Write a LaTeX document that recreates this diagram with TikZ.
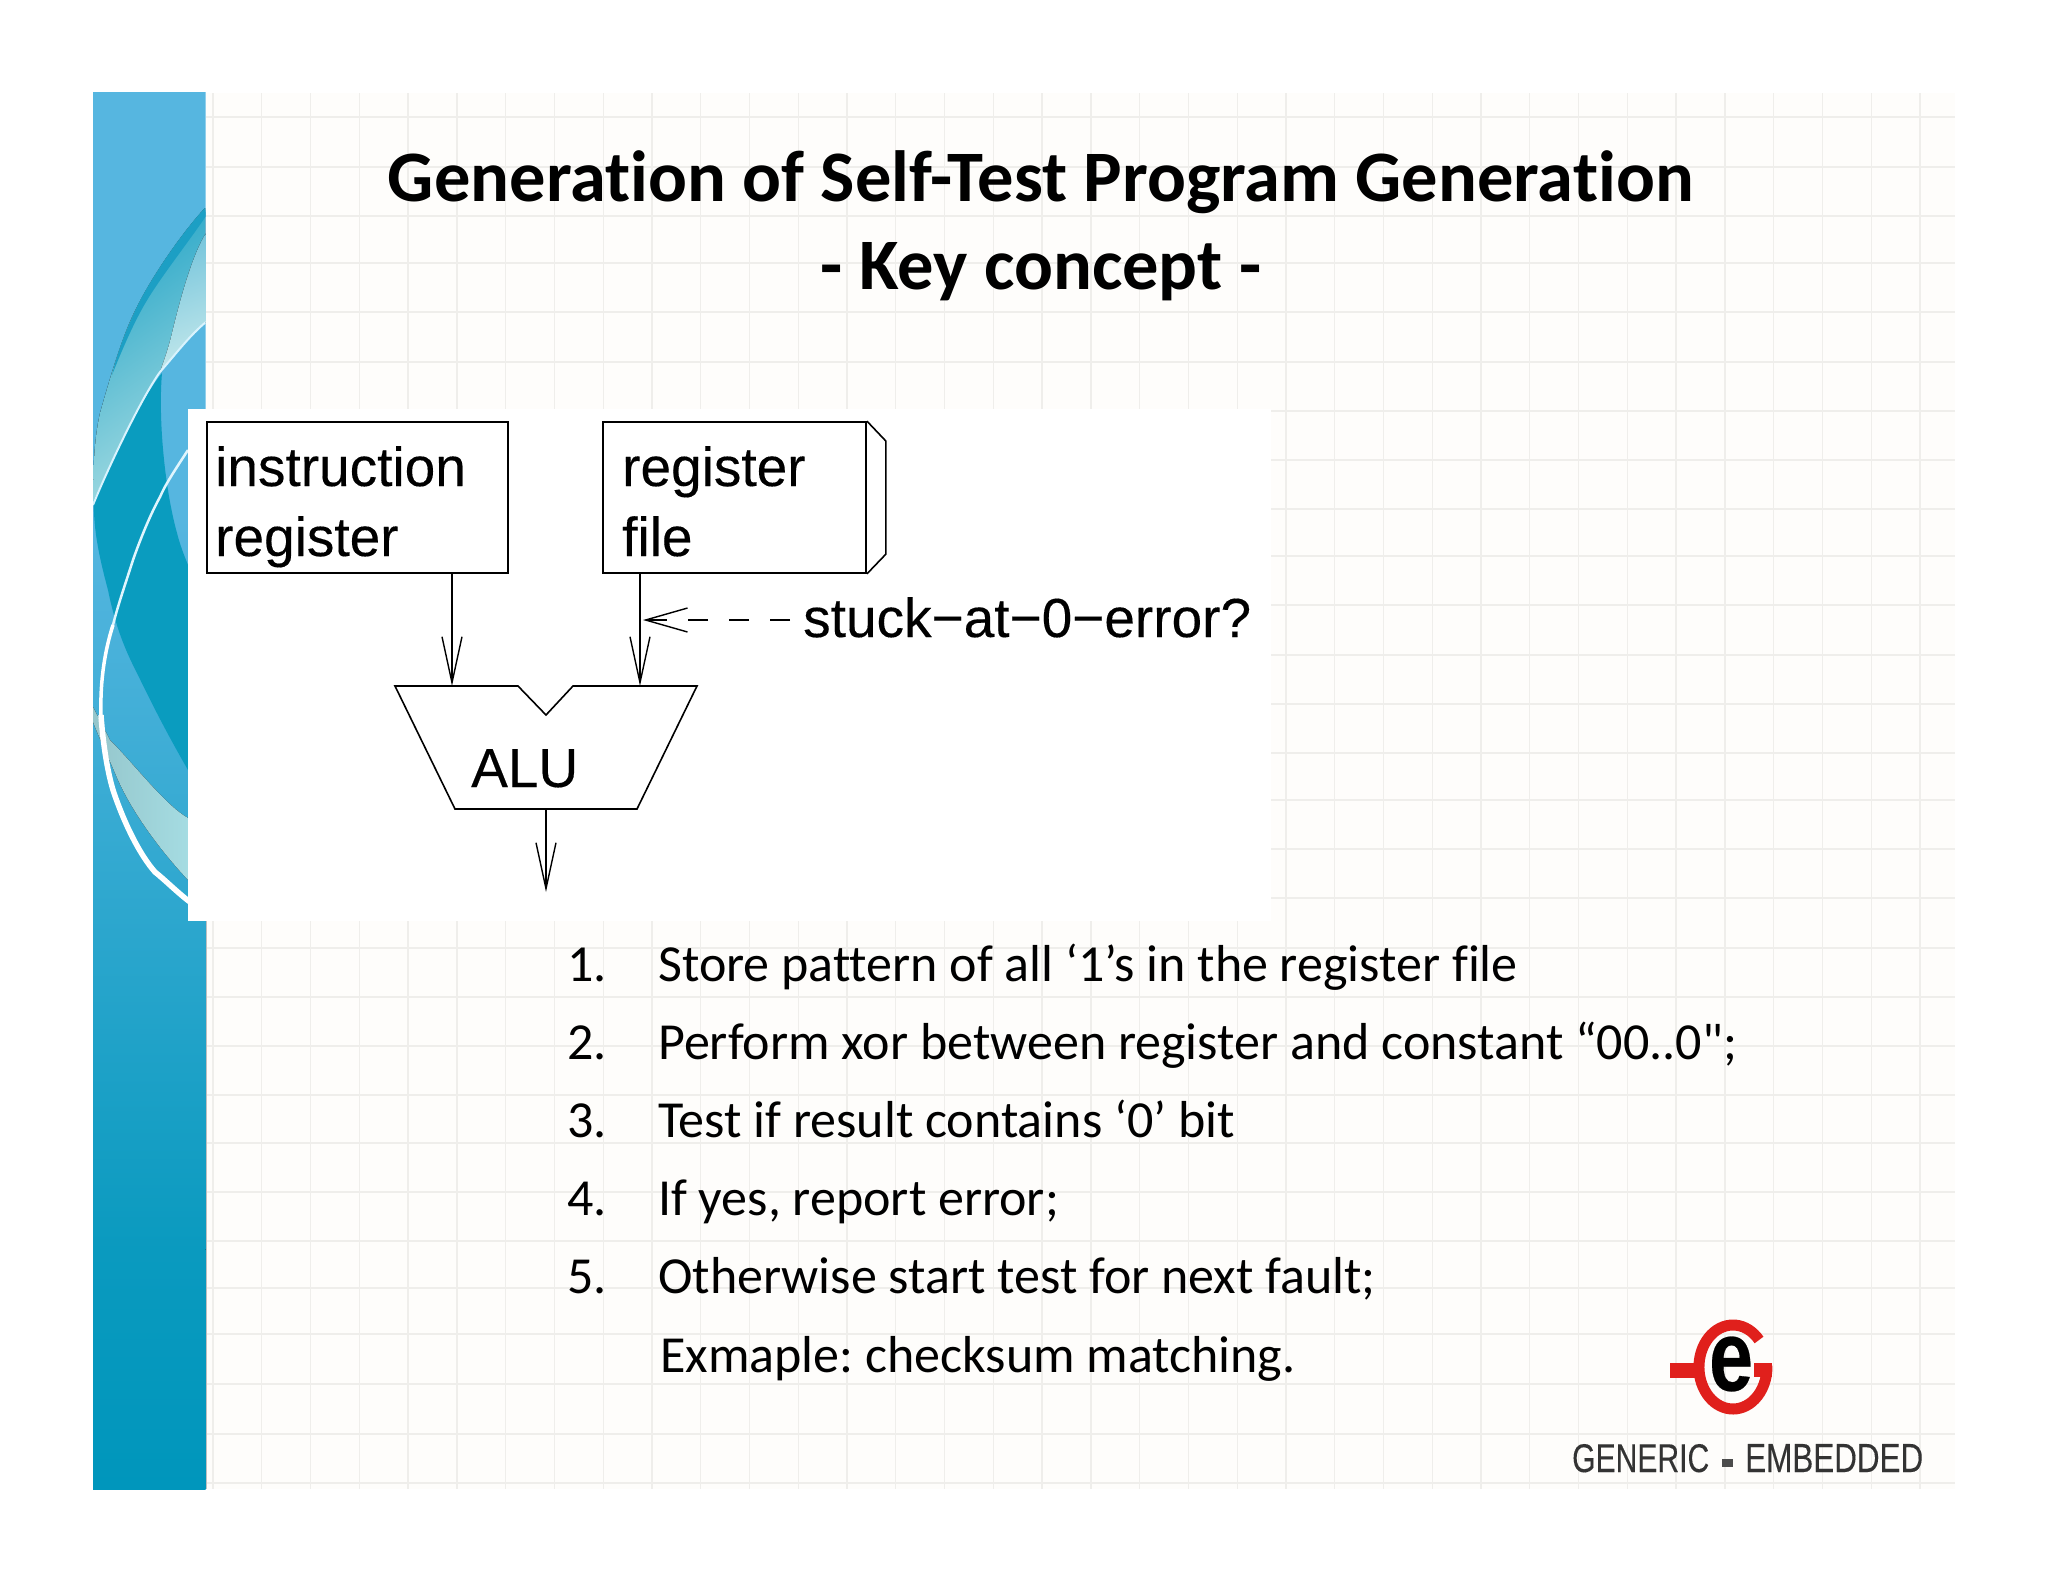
\documentclass[tikz,border=0pt]{standalone}
\usepackage{fontspec}
\setmainfont[Ligatures={TeXOff,NoCommon}]{Carlito}
\newfontfamily\alufont[FakeBold=0.25]{Liberation Sans}
\usetikzlibrary{arrows.meta}
\definecolor{paper}{HTML}{FEFDFB}
\definecolor{gridc}{HTML}{EFEEEB}
\definecolor{panelA}{HTML}{56B6E0}
\definecolor{panelB}{HTML}{0A9ABF}
\definecolor{panelC}{HTML}{0096BC}
\definecolor{deep}{HTML}{0A9CBF}
\definecolor{strip}{HTML}{1C9FC4}
\definecolor{leafA}{HTML}{2AA7C8}
\definecolor{leafB}{HTML}{A5DCE2}
\definecolor{logored}{HTML}{E0201C}
\frenchspacing
\tikzset{
  gridline/.style={gridc,line width=1.3pt},
  titletext/.style={inner sep=0pt,anchor=base,font=\bfseries\fontsize{72.5}{76}\selectfont},
  bodytext/.style={inner sep=0pt,anchor=base west,font=\fontsize{52}{56}\selectfont},
  figtext/.style={inner sep=0pt,anchor=base west,font=\alufont\fontsize{55}{60}\selectfont},
  figbox/.style={draw=black,line width=1.8pt,inner sep=0pt,fill=white},
  figline/.style={draw=black,line width=1.6pt},
  flow/.style={figline,-{Straight Barb[length=46pt,width=20pt,line width=1.4pt]}},
  dashflow/.style={figline,dash pattern=on 20pt off 21pt,-{Straight Barb[length=42pt,width=24pt,line width=1.4pt]}},
  brand/.style={inner sep=0pt,anchor=base west,text=black!80,font=\alufont},
}
\begin{document}
\begin{tikzpicture}[x=1pt,y=-1pt]
\useasboundingbox (0,0) rectangle (2048,1582);
% paper
\fill[paper] (206,93) rectangle (1955,1489);
\foreach \k in {0,...,35} \draw[gridline] ({213+48.77*\k},93) -- ({213+48.77*\k},1489);
\foreach \y in {117,167,216,263,312,362,411,460,509,556,605,655,704,753,800,849,898,948,997,1046,1095,1143,1192,1241,1288,1334,1384,1434,1483}
  \draw[gridline] (206,\y) -- (1955,\y);
% blue panel
\begin{scope}
\clip (93,92) rectangle (205.5,1489);
\fill[panelA] (93,92) rectangle (206,520);
\fill[top color=panelA,bottom color=panelB] (93,519) rectangle (206,1250);
\fill[top color=panelB,bottom color=panelC] (93,1249) rectangle (206,1489);
% upper leaf
\fill[top color=leafA,bottom color=leafB,shading angle=35]
  (205,208) .. controls (180,235) and (150,280) .. (137,307)
  .. controls (122,335) and (108,385) .. (100,413)
  .. controls (94,440) and (93,470) .. (93,505)
  .. controls (105,475) and (140,400) .. (160,372)
  .. controls (175,355) and (190,335) .. (206,322) -- cycle;
\fill[strip]
  (205,208) .. controls (180,235) and (150,280) .. (137,307)
  .. controls (127,328) and (118,350) .. (112,375)
  .. controls (122,350) and (134,322) .. (146,302)
  .. controls (160,278) and (190,240) .. (206,216) -- cycle;
\fill[top color=strip!60!white,bottom color=leafB!70!white,shading angle=20]
  (206,233) .. controls (192,255) and (180,300) .. (172,333)
  .. controls (168,350) and (164,360) .. (160,372)
  .. controls (175,355) and (190,335) .. (206,322) -- cycle;
% deep body
\fill[deep]
  (162,373) .. controls (158,420) and (165,490) .. (177,533)
  .. controls (180,545) and (184,555) .. (188,565)
  -- (206,570) -- (206,790) -- (188,770)
  .. controls (165,730) and (150,700) .. (137,673)
  .. controls (125,650) and (115,625) .. (108,590)
  .. controls (100,560) and (93,530) .. (94,500)
  .. controls (110,465) and (140,400) .. (162,373) -- cycle;
\draw[cyan!15!white,line width=2pt]
  (93,505) .. controls (105,475) and (140,400) .. (160,372)
  .. controls (175,355) and (190,335) .. (206,322);
% light band
\fill[left color=leafB!90!black,right color=leafB]
  (93,707) -- (110,740) .. controls (135,765) and (165,805) .. (188,818)
  -- (188,880) .. controls (160,850) and (130,810) .. (115,773)
  .. controls (105,750) and (98,735) .. (93,722) -- cycle;
% white curve
\draw[cyan!12!white,line width=2.5pt]
  (188,450) .. controls (175,470) and (165,485) .. (160,497)
  .. controls (150,515) and (140,540) .. (133,560)
  .. controls (125,585) and (118,605) .. (113,625);
\draw[white,line width=3.5pt]
  (113,625) .. controls (105,650) and (100,680) .. (101,715);
\draw[white,line width=5.5pt]
  (101,715) .. controls (103,745) and (108,775) .. (114,793)
  .. controls (125,825) and (140,855) .. (155,872)
  .. controls (165,880) and (178,893) .. (190,902);
\end{scope}
\draw[black!25,line width=1pt] (206,921) -- (206,1489);
% white figure ground
\fill[white] (188,409) rectangle (1271,921);
% title
\node[titletext] (title1) at (1041,201) {Generation of Self-Test Program Generation};
\node[titletext] (title2) at (1041,289) {- Key concept -};
% figure
\node[figbox,minimum width=301pt,minimum height=151pt] (ireg) at (357.5,497.5) {};
\node[figbox,minimum width=263pt,minimum height=151pt] (rfile) at (734.5,497.5) {};
\draw[figline] (rfile.north east) -- ++(19,20) -- ++(0,113) -- (rfile.south east);
\node[figtext] (it1) at (215,486) {instruction};
\node[figtext] (it2) at (215,556) {register};
\node[figtext] (rt1) at (622,486) {register};
\node[figtext] (rt2) at (622,556) {file};
\coordinate (aluA) at (452,686);
\coordinate (aluB) at (640,686);
\coordinate (aluOut) at (546,809);
\coordinate (outEnd) at (546,892);
\coordinate (probe) at (643,620);
\draw[figline,line join=miter] (395,686) -- (518,686) -- (546,715) -- (573,686) -- (697,686) -- (637,809) -- (455,809) -- cycle;
\node[figtext] (alu) at (471,787) {ALU};
\node[figtext] (stuck) at (803,637) {stuck−at−0−error?};
\draw[flow] (ireg.south -| aluA) -- (aluA);
\draw[flow] (rfile.south -| aluB) -- (aluB);
\draw[flow] (aluOut) -- (outEnd);
\draw[dashflow,shorten <=13pt] (stuck.west |- probe) -- (probe);
% list
\foreach \n/\y/\t in {1/981/{Store pattern of all ‘1’s in the register file},
                      2/1059/{Perform xor between register and constant “00..0";},
                      3/1137/{Test if result contains ‘0’ bit},
                      4/1215/{If yes, report error;},
                      5/1293/{Otherwise start test for next fault;}}{
  \node[bodytext] (num\n) at (567,\y) {\n.};
  \node[bodytext] (item\n) at (658,\y) {\t};
}
\node[bodytext] (note) at (660,1372) {Exmaple: checksum matching.};
% logo
\draw[logored,line width=11pt,line cap=butt]
  (1759,1340) arc[start angle=-40,end angle=-362,x radius=34,y radius=42];
\fill[logored] (1670,1363) rectangle (1698,1378);
\fill[logored] (1754,1363) rectangle (1772,1377);
\node[inner sep=0pt,anchor=center] (logoe) at (1731,1364) {\alufont\bfseries\resizebox{44pt}{54pt}{e}};
\node[brand] (brandA) at (1572,1472) {\resizebox{137pt}{28pt}{GENERIC}};
\fill[black!70] (1722,1459) rectangle (1733,1467);
\node[brand] (brandB) at (1745,1472) {\resizebox{178pt}{28pt}{EMBEDDED}};
\end{tikzpicture}
\end{document}
